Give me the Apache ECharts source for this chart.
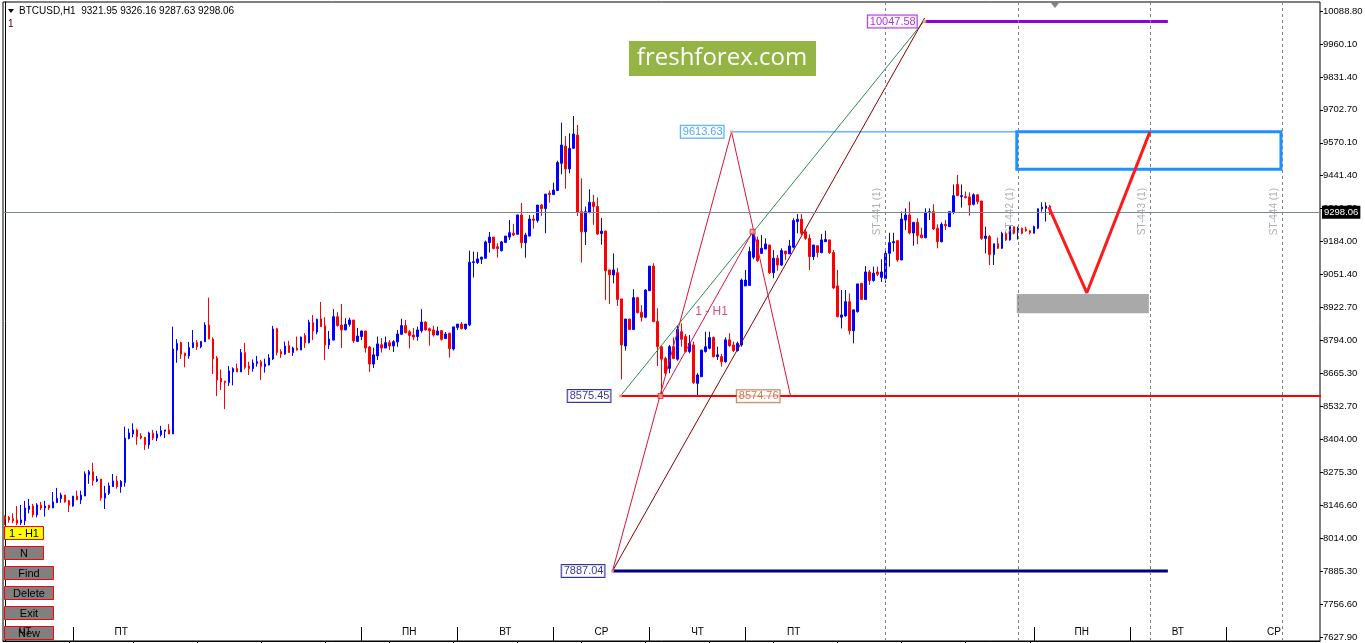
<!DOCTYPE html>
<html>
<head>
<meta charset="utf-8">
<script src="https://cdn.jsdelivr.net/npm/echarts@6/dist/echarts.min.js"></script>
<style>
html,body{margin:0;padding:0;background:#fff;overflow:hidden}
#c{width:1365px;height:643px}
</style>
</head>
<body>
<div id="c"></div>
<script>
// ---------------- DATA ----------------
const symbolTitle = 'BTCUSD,H1  9321.95 9326.16 9287.63 9298.06';
const totalBars = 329;            // bars visible on the time axis (incl. empty future area)
const priceMin = 7627.9;
const priceMax = 10088.8;
const priceTicks = ['7627.90','7756.60','7885.30','8014.00','8146.60','8275.30','8404.00','8532.70',
  '8665.30','8794.00','8922.70','9051.40','9184.00','9312.70','9441.40','9570.10','9702.70',
  '9831.40','9960.10','10088.80'];
const currentPrice = 9298.06;

// day names on the time axis and the bar index where they are printed
const dayNames     = ['ЧТ','ПТ','ПН','ВТ','СР','ЧТ','ПТ','ПН','ВТ','СР'];
const dayLabelBars = [5, 29, 101, 125, 149, 173, 197, 269, 293, 317];
// first bar of each day (separator)
const daySepBars   = [17, 89, 113, 137, 161, 185, 257, 281, 305];

// H1 candles: [open, close, low, high]
const candles = [
[8101,8091,8068,8106],[8098,8088,8077,8104],[8093,8085,8075,8114],[8088,8075,8068,8143],[8077,8088,8068,8147],
[8085,8135,8068,8163],[8130,8143,8114,8171],[8143,8108,8098,8151],[8108,8147,8098,8154],[8146,8135,8127,8159],
[8135,8143,8101,8163],[8146,8135,8127,8146],[8135,8159,8135,8198],[8156,8173,8156,8214],[8172,8186,8156,8195],
[8186,8159,8156,8186],[8164,8146,8119,8167],[8143,8182,8140,8182],[8182,8167,8167,8203],[8167,8186,8151,8203],
[8182,8269,8182,8279],[8266,8278,8230,8285],[8277,8243,8223,8313],[8241,8249,8237,8261],[8249,8174,8164,8249],
[8174,8193,8131,8222],[8193,8222,8186,8235],[8219,8241,8219,8269],[8241,8219,8211,8261],[8219,8239,8195,8245],
[8235,8410,8219,8455],[8408,8430,8405,8447],[8426,8442,8413,8468],[8442,8416,8383,8447],[8418,8410,8405,8429],
[8413,8384,8363,8413],[8384,8430,8368,8435],[8429,8410,8402,8442],[8410,8426,8398,8439],[8423,8439,8416,8458],
[8437,8442,8410,8442],[8442,8426,8426,8465],[8426,8760,8426,8848],[8756,8782,8706,8799],[8785,8740,8721,8789],
[8743,8733,8688,8746],[8733,8766,8722,8788],[8766,8785,8763,8835],[8785,8769,8756,8795],[8769,8790,8763,8790],
[8789,8854,8788,8865],[8854,8799,8799,8962],[8799,8721,8662,8806],[8725,8638,8575,8733],[8644,8630,8599,8680],
[8634,8628,8524,8634],[8628,8674,8615,8693],[8670,8683,8617,8688],[8683,8670,8670,8703],[8670,8746,8670,8760],
[8746,8688,8680,8784],[8693,8683,8658,8710],[8683,8705,8671,8719],[8703,8710,8691,8733],[8710,8691,8638,8717],
[8691,8701,8667,8722],[8697,8725,8696,8740],[8721,8839,8717,8851],[8840,8746,8735,8843],[8750,8740,8725,8759],
[8740,8772,8737,8789],[8773,8746,8746,8792],[8746,8764,8733,8769],[8764,8756,8754,8809],[8756,8807,8756,8809],
[8813,8785,8764,8822],[8785,8865,8782,8875],[8864,8831,8795,8894],[8827,8877,8818,8879],[8879,8848,8848,8945],
[8851,8776,8717,8885],[8776,8799,8760,8831],[8795,8887,8795,8917],[8887,8852,8848,8906],[8854,8835,8764,8937],
[8835,8857,8835,8881],[8857,8874,8848,8883],[8874,8792,8784,8874],[8790,8811,8788,8843],[8809,8831,8795,8832],
[8831,8764,8746,8831],[8768,8701,8670,8772],[8701,8737,8685,8765],[8733,8780,8717,8809],[8777,8764,8746,8803],
[8764,8785,8764,8809],[8785,8772,8756,8795],[8772,8789,8748,8795],[8788,8819,8769,8835],[8818,8852,8815,8879],
[8852,8824,8822,8874],[8828,8813,8762,8835],[8815,8807,8795,8843],[8809,8835,8793,8848],[8832,8866,8824,8917],
[8866,8835,8832,8869],[8840,8832,8773,8844],[8835,8815,8809,8851],[8815,8831,8815,8848],[8832,8798,8793,8835],
[8801,8819,8801,8827],[8822,8762,8726,8824],[8760,8847,8754,8847],[8845,8858,8835,8858],[8858,8840,8837,8866],
[8840,8858,8835,8858],[8855,9101,8850,9147],[9100,9103,9041,9143],[9100,9114,9094,9141],[9113,9121,9094,9123],
[9117,9181,9115,9186],[9178,9200,9139,9220],[9200,9155,9152,9200],[9162,9155,9119,9176],[9147,9181,9143,9185],
[9179,9204,9177,9204],[9200,9217,9189,9267],[9215,9208,9204,9252],[9211,9287,9211,9287],[9287,9178,9156,9334],
[9178,9208,9119,9217],[9204,9271,9204,9287],[9271,9266,9233,9287],[9265,9326,9257,9326],[9326,9312,9283,9330],
[9312,9369,9215,9369],[9372,9367,9335,9383],[9367,9385,9367,9414],[9383,9493,9383,9500],[9490,9562,9447,9650],
[9558,9468,9390,9597],[9468,9549,9451,9608],[9549,9605,9549,9676],[9601,9297,9283,9641],[9300,9221,9100,9431],
[9221,9300,9169,9320],[9297,9337,9293,9388],[9337,9320,9248,9366],[9320,9212,9208,9356],[9214,9223,9170,9275],
[9224,9068,8953,9224],[9071,9052,8937,9071],[9051,9071,9018,9136],[9060,8955,8929,9079],[8957,8776,8641,8957],
[8772,8878,8754,8878],[8878,8837,8835,8878],[8837,8962,8835,8995],[8962,8903,8900,8965],[8904,8885,8868,8932],
[8885,8992,8881,8995],[8989,9086,8989,9086],[9086,8868,8865,9097],[8868,8769,8693,8920],[8769,8720,8575,8773],
[8723,8665,8658,8730],[8684,8769,8665,8776],[8769,8723,8720,8806],[8720,8837,8714,8851],[8828,8798,8769,8861],
[8809,8750,8746,8819],[8750,8782,8743,8815],[8776,8628,8623,8789],[8625,8658,8577,8665],[8651,8756,8651,8756],
[8750,8769,8746,8828],[8763,8805,8759,8828],[8805,8730,8727,8809],[8730,8737,8717,8769],[8730,8710,8691,8741],
[8710,8796,8706,8806],[8796,8773,8769,8822],[8776,8754,8748,8789],[8754,8782,8750,8789],[8776,9031,8769,9037],
[9008,9031,9008,9071],[9010,9143,9010,9162],[9121,9215,9113,9228],[9189,9107,9103,9202],[9136,9156,9134,9208],
[9153,9173,9153,9195],[9169,9060,9055,9169],[9060,9117,9038,9149],[9117,9090,9068,9130],[9090,9147,9086,9156],
[9145,9134,9110,9145],[9134,9165,9134,9189],[9160,9265,9156,9274],[9261,9270,9215,9291],[9270,9215,9208,9291],
[9221,9195,9189,9231],[9195,9123,9071,9211],[9123,9169,9110,9169],[9166,9139,9121,9169],[9139,9189,9136,9212],
[9182,9191,9182,9225],[9189,9139,9134,9189],[9139,9000,8996,9149],[9008,8887,8885,9071],[8885,8894,8841,8992],
[8890,8946,8887,8992],[8946,8832,8817,8979],[8832,8914,8782,8914],[8907,9016,8903,9016],[9018,8955,8953,9018],
[8955,9063,8953,9086],[9063,9029,9012,9071],[9029,9058,9025,9084],[9063,9054,9047,9084],[9042,9063,9024,9113],
[9037,9136,9020,9150],[9136,9178,9084,9217],[9178,9182,9143,9217],[9186,9110,9103,9189],[9110,9271,9110,9300],
[9267,9287,9228,9313],[9287,9216,9211,9339],[9216,9258,9166,9258],[9258,9206,9172,9274],[9208,9198,9195,9237],
[9198,9297,9195,9313],[9296,9300,9267,9313],[9300,9232,9228,9329],[9235,9182,9156,9250],[9182,9250,9179,9258],
[9250,9245,9228,9267],[9241,9300,9241,9300],[9297,9363,9290,9407],[9407,9363,9363,9444],[9359,9363,9316,9407],
[9359,9355,9352,9379],[9358,9326,9284,9376],[9329,9366,9324,9372],[9366,9339,9329,9368],[9342,9195,9189,9342],
[9195,9204,9136,9241],[9202,9132,9090,9208],[9132,9174,9090,9174],[9174,9156,9153,9198],[9156,9215,9153,9221],
[9215,9189,9185,9221],[9189,9241,9186,9241],[9241,9215,9211,9241],[9221,9235,9190,9241],[9235,9215,9211,9237],
[9232,9225,9221,9241],[9225,9217,9211,9228],[9215,9241,9215,9245],[9235,9311,9232,9313],[9311,9318,9300,9337],
[9313,9322,9261,9337],[9321.95,9298.06,9287.63,9326.16]
];

// drawing objects: [bar index, price]
const xadPath    = [[151.75, 7887.04], [181.5, 9613.63], [196.25, 8574.76]];
const bcPath     = [[163.75, 8575.45], [186.75, 9221]];
const greenPath  = [[153.75, 8575.45], [229.5, 10047.58]];
const maroonPath = [[151.75, 7887.04], [229.75, 10062]];
const zigzagPath = [[260.75, 9318], [270.25, 8981], [286, 9613.63]];
const purpleLevel = [[229.75, 10047.58], [290.5, 10047.58]];
const blueLevel   = [[181.5, 9613.63], [252.75, 9613.63]];
const redLevel    = [[153.75, 8575.45], [290.5, 8575.45]];
const redRay      = [[153.75, 8575.45], [328.75, 8575.45]];
const navyLevel   = [[151.75, 7887.04], [290.5, 7887.04]];
const targetBox   = [[252.75, 9613.63], [318.75, 9467]];
const grayBox     = [[252.75, 8976], [285.75, 8901]];
const stBars  = [220, 253, 286, 319];
const stNames = ['ST-441 (1)', 'ST-442 (1)', 'ST-443 (1)', 'ST-444 (1)'];
const stLabelPrice = 9300;
const priceTags = [
  {bar: 229.75, price: 10047.58, text: '10047.58', color: '#9400d3', dist: 8},
  {bar: 181.5,  price: 9613.63,  text: '9613.63',  color: '#1e90ff', dist: 8},
  {bar: 153.75, price: 8575.45,  text: '8575.45',  color: '#000080', dist: 10},
  {bar: 151.75, price: 7887.04,  text: '7887.04',  color: '#000080', dist: 8},
  {bar: 196.25, price: 8574.76,  text: '8574.76',  color: '#b0602c', dist: 11}
];
const smallAnchors = [[181.5, 9613.63], [229.75, 10047.58], [153.75, 8575.45], [151.75, 7887.04]];
const bigAnchors   = [[163.75, 8575.45], [186.75, 9221]];
const patternLabel = {bar: 176.5, price: 8906, text: '1 - H1'};

// ---------------- CHART ----------------
const FONT = 'Liberation Sans, Arial, sans-serif';
const cats = Array.from({length: totalBars}, (_, i) => String(i));
const chart = echarts.init(document.getElementById('c'), null, {renderer: 'canvas'});

function seg(data, color, width, z, type) {
  return {type: 'line', xAxisIndex: 1, yAxisIndex: 0, data: data, symbol: 'none', silent: true,
    z: z || 3, lineStyle: {color: color, width: width, type: type || 'solid'}, animation: false};
}

const buttons = [
  {text: '1 - H1', y: 526, w: 39, fill: '#ffff00'},
  {text: 'N',      y: 546, w: 39, fill: '#808080'},
  {text: 'Find',   y: 566, w: 49, fill: '#808080'},
  {text: 'Delete', y: 586, w: 49, fill: '#808080'},
  {text: 'Exit',   y: 606, w: 49, fill: '#808080'},
  {text: 'New',    y: 626, w: 49, fill: '#808080'}
];

const graphics = [
  {type: 'polygon', shape: {points: [[8, 9], [14, 9], [11, 13]]}, style: {fill: '#000'}, z: 10},
  {type: 'text', x: 19, y: 11, style: {text: symbolTitle, font: '10px ' + FONT, fill: '#000', verticalAlign: 'middle'}, z: 10},
  {type: 'text', x: 8, y: 24, style: {text: '1', font: '10px ' + FONT, fill: '#400000', verticalAlign: 'middle'}, z: 10},
  {type: 'polygon', shape: {points: [[1051, 3], [1059, 3], [1055, 8]]}, style: {fill: '#808080'}, z: 10},
  {type: 'rect', shape: {x: 629, y: 41, width: 187, height: 35}, style: {fill: '#94b545'}, z: 10},
  {type: 'text', x: 722, y: 58.5, style: {text: 'freshforex.com', font: '24px Open Sans, Lato, sans-serif', fill: '#fff', align: 'center', verticalAlign: 'middle'}, z: 11}
];
buttons.forEach(b => {
  graphics.push({type: 'rect', shape: {x: 4.5, y: b.y + 0.5, width: b.w, height: 13}, style: {fill: b.fill, stroke: '#ff0000', lineWidth: 1}, z: 20});
  graphics.push({type: 'text', x: 4.5 + b.w / 2, y: b.y + 7.5, style: {text: b.text, font: '11px ' + FONT, fill: '#000', align: 'center', verticalAlign: 'middle'}, z: 21});
});

const option = {
  animation: false,
  backgroundColor: '#ffffff',
  grid: [
    {left: 3, right: 45, top: 11, bottom: 6, outerBoundsMode: 'none'},
    {left: 3, right: 45, top: 2, bottom: 2, show: true, borderColor: '#000', borderWidth: 1, backgroundColor: 'transparent', outerBoundsMode: 'none'}
  ],
  xAxis: [
    {type: 'category', gridIndex: 0, data: cats, show: false, boundaryGap: true},
    {type: 'value', gridIndex: 0, min: -0.5, max: totalBars - 0.5, show: false},
    {type: 'category', gridIndex: 1, data: cats, position: 'bottom', boundaryGap: true, z: 50,
      axisLine: {show: true, lineStyle: {color: '#000', width: 1}},
      axisTick: {show: true, inside: true, length: 14, alignWithLabel: true,
        interval: (i) => daySepBars.includes(i), lineStyle: {color: '#000'}},
      axisLabel: {show: true, inside: true, margin: 4, color: '#000', fontSize: 10, fontFamily: FONT,
        interval: (i) => dayLabelBars.includes(i),
        formatter: (v, i) => dayNames[dayLabelBars.indexOf(i)] || ''},
      splitLine: {show: false}},
    {type: 'category', gridIndex: 1, data: cats, position: 'bottom', boundaryGap: true,
      axisLine: {show: false},
      axisTick: {show: true, inside: false, length: 3, alignWithLabel: true,
        interval: (i) => i > 0 && i % 16 === 0 && i < candles.length, lineStyle: {color: '#000'}},
      axisLabel: {show: false}, splitLine: {show: false}},
    {type: 'value', gridIndex: 1, min: -0.5, max: totalBars - 0.5, show: false}
  ],
  yAxis: [
    {type: 'value', gridIndex: 0, min: priceMin, max: priceMax, show: false},
    {type: 'value', gridIndex: 0, min: 0, max: priceTicks.length - 1, interval: 1, position: 'right',
      axisLine: {show: false},
      axisTick: {show: true, length: 3, lineStyle: {color: '#000'}},
      axisLabel: {show: true, margin: 3, color: '#000', fontSize: 9.5, fontFamily: FONT,
        formatter: (v) => priceTicks[Math.round(v)]},
      splitLine: {show: false}},
    {type: 'value', gridIndex: 1, min: 0, max: 1, position: 'right',
      axisLine: {show: true, lineStyle: {color: '#000'}}, axisTick: {show: false},
      axisLabel: {show: false}, splitLine: {show: false}}
  ],
  graphic: graphics,
  series: [
    {type: 'candlestick', xAxisIndex: 0, yAxisIndex: 0, data: candles, barWidth: 2,
      itemStyle: {color: '#0000ff', color0: '#ff0000', borderColor: '#0000ff', borderColor0: '#ff0000', borderWidth: 1},
      z: 2,
      markLine: {silent: true, symbol: 'none', animation: false,
        lineStyle: {color: '#778899', width: 1, type: 'solid'},
        label: {show: true, position: 'end', distance: 2, formatter: currentPrice.toFixed(2),
          backgroundColor: '#000', color: '#fff', padding: [2, 2, 1, 2], fontSize: 9.5, fontFamily: FONT},
        data: [{yAxis: currentPrice}]}},
    // vertical dashed ST lines (full frame height)
    {type: 'line', xAxisIndex: 4, yAxisIndex: 2, data: [], silent: true, z: 3,
      markLine: {silent: true, symbol: 'none', animation: false, label: {show: false},
        lineStyle: {color: '#808080', type: [3, 3], width: 1},
        data: stBars.map(b => ({xAxis: b}))}},
    // rectangles
    {type: 'line', xAxisIndex: 1, yAxisIndex: 0, data: [], silent: true, z: 3,
      markArea: {silent: true, animation: false, data: [
        [{coord: targetBox[0], itemStyle: {color: 'rgba(0,0,0,0)', borderColor: '#1e90ff', borderWidth: 3}}, {coord: targetBox[1]}],
        [{coord: grayBox[0], itemStyle: {color: '#a9a9a9', borderWidth: 0}}, {coord: grayBox[1]}]
      ]}},
    seg(redRay, '#ff0000', 2, 4),
    seg(redLevel, '#ff0000', 2, 4),
    seg(navyLevel, '#000080', 3, 4),
    seg(purpleLevel, '#9400d3', 3, 4),
    seg(blueLevel, '#1e90ff', 1, 4),
    seg(greenPath, '#2e8b57', 1, 4),
    seg(maroonPath, '#8b0000', 1, 4),
    seg(xadPath, '#dc143c', 1, 4),
    seg(bcPath, '#dc143c', 1, 4),
    seg(zigzagPath, '#ff1a1a', 3, 5),
    // ST labels
    {type: 'scatter', xAxisIndex: 1, yAxisIndex: 0, symbolSize: 0, silent: true, z: 6,
      data: stBars.map((b, k) => ({value: [b - 2, stLabelPrice], name: stNames[k]})),
      label: {show: true, position: 'inside', formatter: '{b}', rotate: 90, color: '#999999', fontSize: 10, fontFamily: FONT}},
    // price tags
    {type: 'scatter', xAxisIndex: 1, yAxisIndex: 0, symbolSize: 0, silent: true, z: 7,
      data: priceTags.map(t => ({value: [t.bar, t.price], name: t.text,
        label: {color: t.color, borderColor: t.color, distance: t.dist}})),
      label: {show: true, position: 'left', formatter: '{b}', backgroundColor: '#fff', borderWidth: 1,
        padding: [1, 1, 0, 2], fontSize: 11, fontFamily: FONT}},
    // anchors
    {type: 'scatter', xAxisIndex: 1, yAxisIndex: 0, symbol: 'rect', symbolSize: 3, silent: true, z: 8,
      data: smallAnchors, itemStyle: {color: '#f4a582'}},
    {type: 'scatter', xAxisIndex: 1, yAxisIndex: 0, symbol: 'rect', symbolSize: 5, silent: true, z: 8,
      data: bigAnchors, itemStyle: {color: '#f4a582', borderColor: '#dc143c', borderWidth: 1}},
    // pattern name
    {type: 'scatter', xAxisIndex: 1, yAxisIndex: 0, symbolSize: 0, silent: true, z: 8,
      data: [{value: [patternLabel.bar, patternLabel.price], name: patternLabel.text}],
      label: {show: true, position: 'inside', formatter: '{b}', color: '#d81b60', fontSize: 12, fontFamily: FONT}}
  ]
};
chart.setOption(option);
</script>
</body>
</html>
